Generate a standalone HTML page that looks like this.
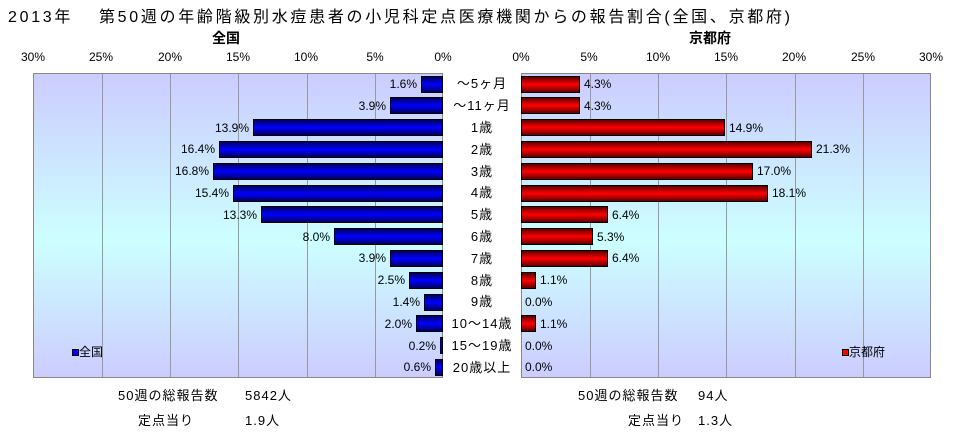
<!DOCTYPE html><html><head><meta charset="utf-8"><style>
body{margin:0;width:968px;height:432px;background:#fff;position:relative;overflow:hidden;font-family:"Liberation Sans","Noto Sans CJK JP",sans-serif;color:#000}
.a{position:absolute;white-space:nowrap}
.plot{position:absolute;top:73px;height:305px;width:410px;border:1px solid #888;box-sizing:border-box;background:linear-gradient(#ccccff,#ccffff 55%,#ccccff)}
.g{position:absolute;top:0;bottom:0;width:1px;background:#999}
.row{position:absolute;height:17px;width:410px;display:flex;align-items:center;font-size:12px}
.L{left:33px;justify-content:flex-end}
.R{left:521px;justify-content:flex-start}
.bb{height:17px;box-sizing:border-box;border:1px solid #000;background:linear-gradient(#000060,#0000ff 50%,#000060)}
.rb{height:17px;box-sizing:border-box;border:1px solid #000;background:linear-gradient(#600000,#ff0000 50%,#600000)}
.L span{margin-right:4px}.R span{margin-left:4px}
.t{font-size:12px;top:50px;transform:translateX(-50%)}
.c{font-size:13px;left:482px;transform:translateX(-50%);letter-spacing:1px}
.f{font-size:13px;letter-spacing:1px}
</style></head><body>
<div class="a" style="left:8px;top:3px;font-size:16px;letter-spacing:2.7px">2013年　 第50週の年齢階級別水痘患者の小児科定点医療機関からの報告割合(全国、京都府)</div>
<div class="a" style="left:226px;top:28px;font-size:14px;font-weight:bold;transform:translateX(-50%)">全国</div>
<div class="a" style="left:710px;top:28px;font-size:14px;font-weight:bold;transform:translateX(-50%)">京都府</div>

<div class="a t" style="left:33px">30%</div><div class="a t" style="left:101px">25%</div><div class="a t" style="left:170px">20%</div><div class="a t" style="left:238px">15%</div><div class="a t" style="left:306px">10%</div><div class="a t" style="left:375px">5%</div><div class="a t" style="left:443px">0%</div>
<div class="a t" style="left:521px">0%</div><div class="a t" style="left:589px">5%</div><div class="a t" style="left:658px">10%</div><div class="a t" style="left:726px">15%</div><div class="a t" style="left:794px">20%</div><div class="a t" style="left:863px">25%</div><div class="a t" style="left:931px">30%</div>

<div class="plot" style="left:33px"><div class="g" style="left:68px"></div><div class="g" style="left:136px"></div><div class="g" style="left:204px"></div><div class="g" style="left:273px"></div><div class="g" style="left:341px"></div></div>
<div class="plot" style="left:521px"><div class="g" style="left:68px"></div><div class="g" style="left:136px"></div><div class="g" style="left:204px"></div><div class="g" style="left:273px"></div><div class="g" style="left:341px"></div></div>

<div class="row L" style="top:75.5px"><span>1.6%</span><div class="bb" style="width:22px"></div></div>
<div class="row L" style="top:97.3px"><span>3.9%</span><div class="bb" style="width:53px"></div></div>
<div class="row L" style="top:119.1px"><span>13.9%</span><div class="bb" style="width:190px"></div></div>
<div class="row L" style="top:140.9px"><span>16.4%</span><div class="bb" style="width:224px"></div></div>
<div class="row L" style="top:162.7px"><span>16.8%</span><div class="bb" style="width:230px"></div></div>
<div class="row L" style="top:184.5px"><span>15.4%</span><div class="bb" style="width:210px"></div></div>
<div class="row L" style="top:206.3px"><span>13.3%</span><div class="bb" style="width:182px"></div></div>
<div class="row L" style="top:228.1px"><span>8.0%</span><div class="bb" style="width:109px"></div></div>
<div class="row L" style="top:249.9px"><span>3.9%</span><div class="bb" style="width:53px"></div></div>
<div class="row L" style="top:271.7px"><span>2.5%</span><div class="bb" style="width:34px"></div></div>
<div class="row L" style="top:293.5px"><span>1.4%</span><div class="bb" style="width:19px"></div></div>
<div class="row L" style="top:315.3px"><span>2.0%</span><div class="bb" style="width:27px"></div></div>
<div class="row L" style="top:337.1px"><span>0.2%</span><div class="bb" style="width:3px"></div></div>
<div class="row L" style="top:358.9px"><span>0.6%</span><div class="bb" style="width:8px"></div></div>

<div class="row R" style="top:75.5px"><div class="rb" style="width:59px"></div><span>4.3%</span></div>
<div class="row R" style="top:97.3px"><div class="rb" style="width:59px"></div><span>4.3%</span></div>
<div class="row R" style="top:119.1px"><div class="rb" style="width:204px"></div><span>14.9%</span></div>
<div class="row R" style="top:140.9px"><div class="rb" style="width:291px"></div><span>21.3%</span></div>
<div class="row R" style="top:162.7px"><div class="rb" style="width:232px"></div><span>17.0%</span></div>
<div class="row R" style="top:184.5px"><div class="rb" style="width:247px"></div><span>18.1%</span></div>
<div class="row R" style="top:206.3px"><div class="rb" style="width:87px"></div><span>6.4%</span></div>
<div class="row R" style="top:228.1px"><div class="rb" style="width:72px"></div><span>5.3%</span></div>
<div class="row R" style="top:249.9px"><div class="rb" style="width:87px"></div><span>6.4%</span></div>
<div class="row R" style="top:271.7px"><div class="rb" style="width:15px"></div><span>1.1%</span></div>
<div class="row R" style="top:293.5px"><span>0.0%</span></div>
<div class="row R" style="top:315.3px"><div class="rb" style="width:15px"></div><span>1.1%</span></div>
<div class="row R" style="top:337.1px"><span>0.0%</span></div>
<div class="row R" style="top:358.9px"><span>0.0%</span></div>

<div class="a c" style="top:73px">～5ヶ月</div>
<div class="a c" style="top:95px">～11ヶ月</div>
<div class="a c" style="top:117px">1歳</div>
<div class="a c" style="top:139px">2歳</div>
<div class="a c" style="top:161px">3歳</div>
<div class="a c" style="top:182px">4歳</div>
<div class="a c" style="top:204px">5歳</div>
<div class="a c" style="top:226px">6歳</div>
<div class="a c" style="top:248px">7歳</div>
<div class="a c" style="top:270px">8歳</div>
<div class="a c" style="top:291px">9歳</div>
<div class="a c" style="top:313px">10～14歳</div>
<div class="a c" style="top:335px">15～19歳</div>
<div class="a c" style="top:357px">20歳以上</div>

<div class="a" style="left:72px;top:343px;font-size:12px"><span style="display:inline-block;width:5px;height:5px;border:1px solid #000;background:#00f;vertical-align:middle"></span>全国</div>
<div class="a" style="left:842px;top:343px;font-size:12px"><span style="display:inline-block;width:5px;height:5px;border:1px solid #000;background:#f00;vertical-align:middle"></span>京都府</div>

<div class="a f" style="left:118px;top:385px">50週の総報告数</div><div class="a f" style="left:245px;top:385px">5842人</div>
<div class="a f" style="left:138px;top:410px">定点当り</div><div class="a f" style="left:245px;top:410px">1.9人</div>
<div class="a f" style="left:578px;top:385px">50週の総報告数</div><div class="a f" style="left:698px;top:385px">94人</div>
<div class="a f" style="left:628px;top:410px">定点当り</div><div class="a f" style="left:698px;top:410px">1.3人</div>
</body></html>
